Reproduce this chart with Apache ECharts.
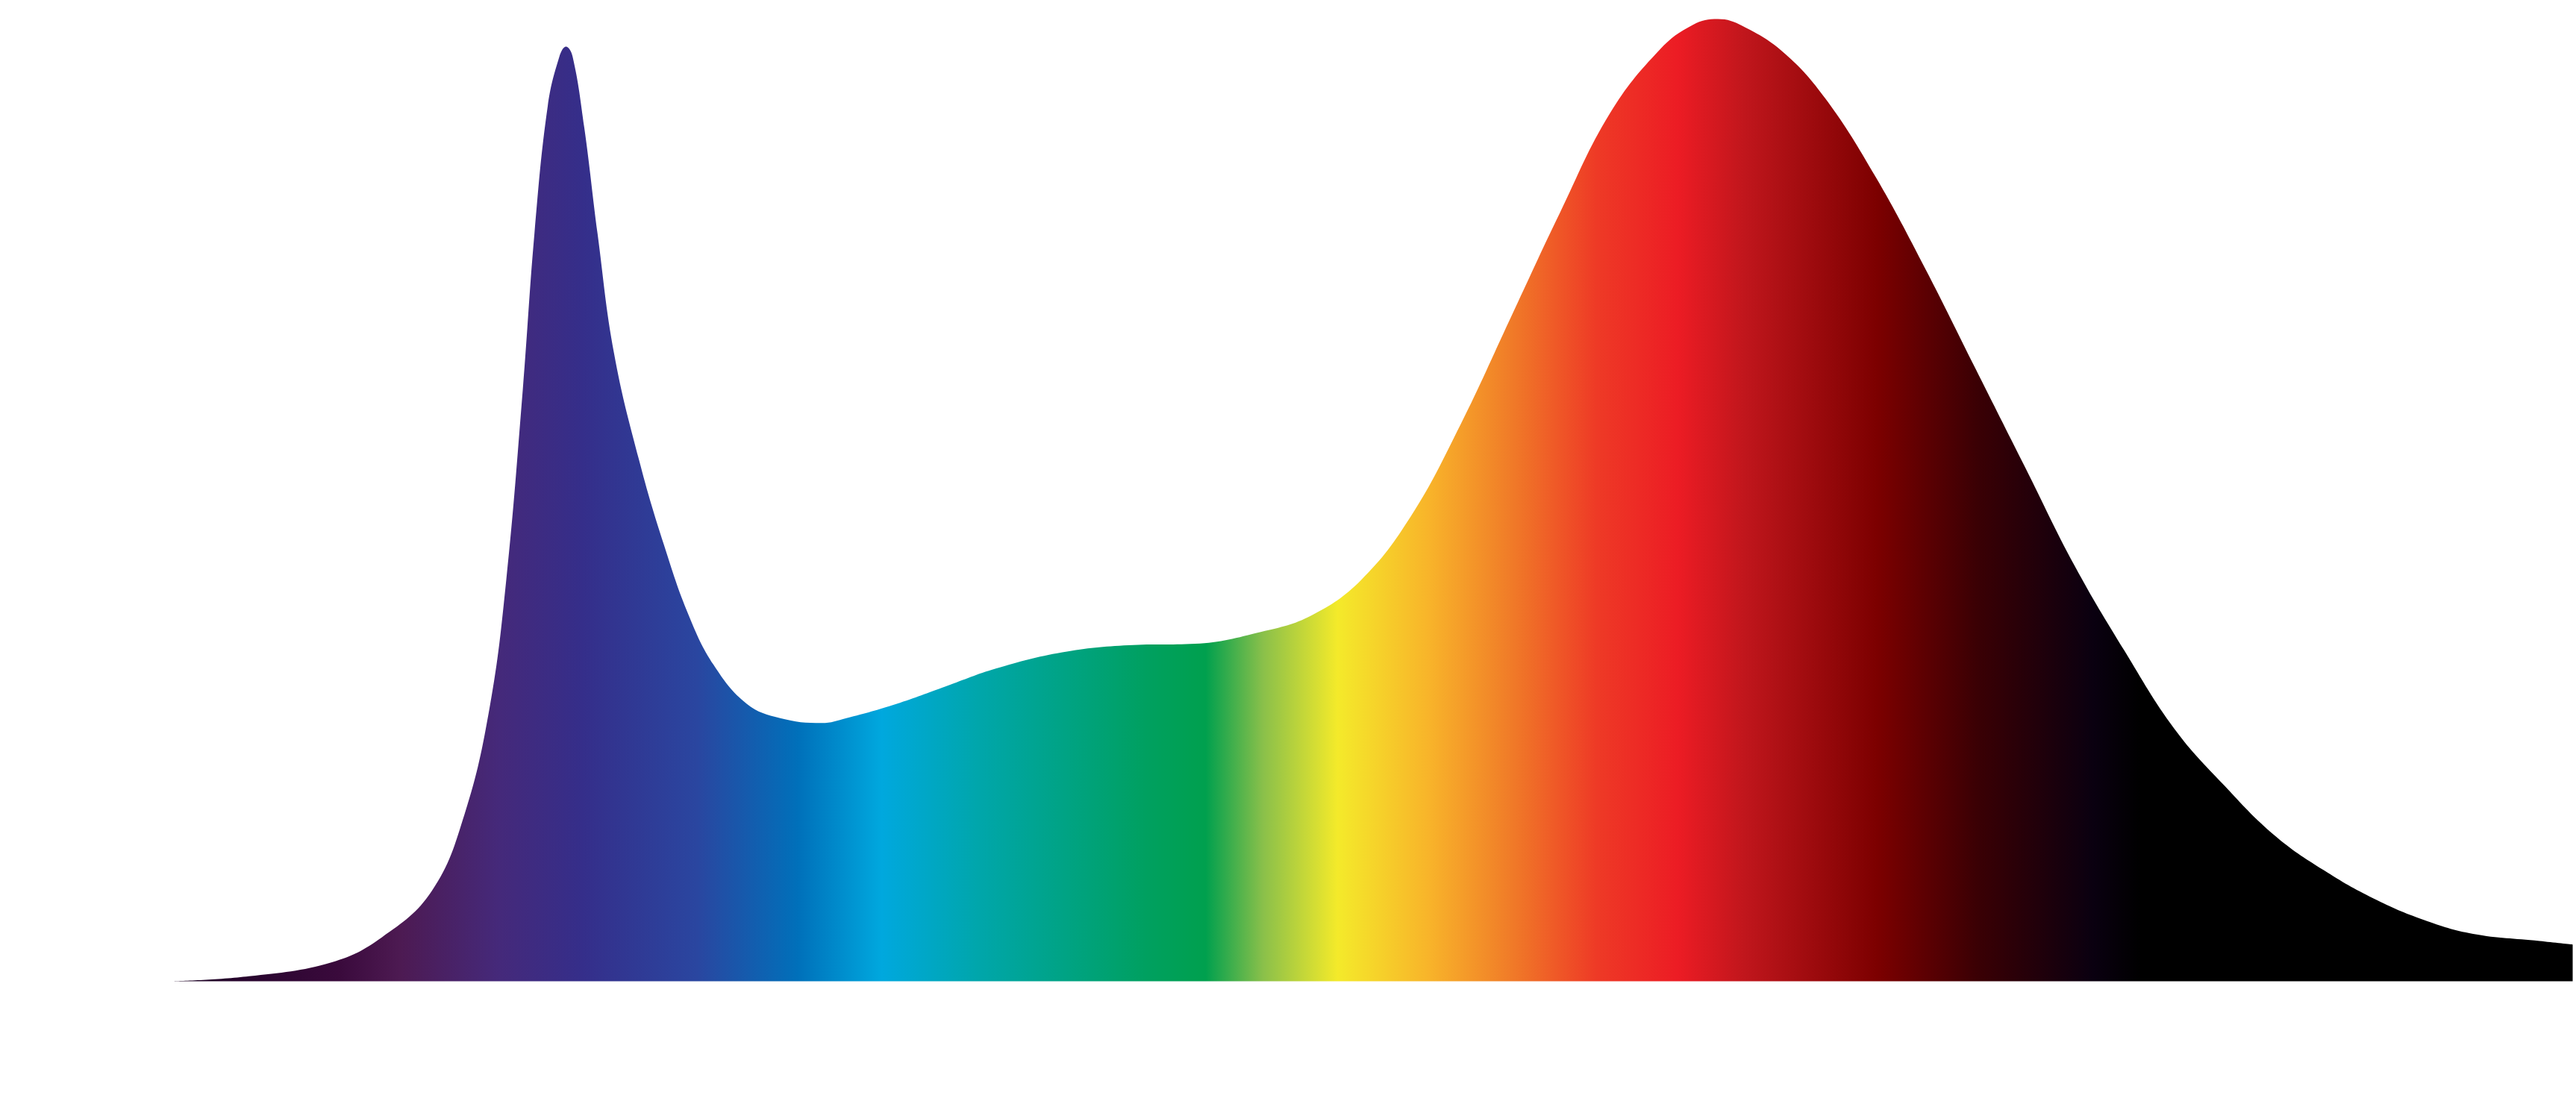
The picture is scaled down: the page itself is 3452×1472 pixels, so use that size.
<!DOCTYPE html>
<html><head><meta charset="utf-8">
<script src="https://cdn.jsdelivr.net/npm/echarts@6/dist/echarts.min.js"></script>
<style>html,body{margin:0;padding:0;background:#fff}#c{width:3452px;height:1472px}</style>
</head><body><div id="c"></div>
<script>
const wavelengths=[105,150,200,230,260,280,295,305,315,322,330,337,341,345,352,360,370,385,400,415,430,450,470,495,510,540,570,600,640,680,720,760,790,820,850,880,910,940,970,1000,1020,1035,1050,1075,1100,1130,1160,1190,1220,1250,1280,1310,1340,1370,1400,1430,1460,1490,1530,1550];
const intensity=[0,7,27,62,127,237,387,567,837,1057,1237,1307,1321,1307,1207,1057,887,737,617,517,447,392,372,365,372,392,417,442,465,475,477,494,517,567,657,787,937,1087,1227,1317,1352,1360,1350,1312,1247,1137,1007,867,727,587,467,357,277,207,157,117,87,67,57,52];
const stops=[[0,'#1a0022'],[0.069,'#3a0a3c'],[0.094,'#4d1a52'],[0.135,'#45297a'],[0.17,'#352e8a'],[0.218,'#2a46a0'],[0.26,'#0070ba'],[0.295,'#00a8de'],[0.336,'#00a6aa'],[0.405,'#00a060'],[0.43,'#00a04e'],[0.454,'#8ac04a'],[0.485,'#f4ea2a'],[0.523,'#f8b42a'],[0.558,'#f07a28'],[0.593,'#ee3a26'],[0.627,'#ec1c24'],[0.655,'#c0161c'],[0.71,'#7c0000'],[0.752,'#3a0004'],[0.80,'#0a0010'],[0.82,'#000000'],[1,'#000000']];
const chart=echarts.init(document.getElementById('c'));
chart.setOption({
 animation:false,
 grid:{left:0,right:0,top:0,bottom:0},
 xAxis:{type:'value',min:0,max:1552,show:false},
 yAxis:{type:'value',min:-165,max:1387,show:false},
 series:[{type:'line',smooth:0.4,symbol:'none',
  data:wavelengths.map((w,i)=>[w,intensity[i]]),
  lineStyle:{width:0},
  areaStyle:{origin:0,opacity:1,color:new echarts.graphic.LinearGradient(0,0,1,0,stops.map(s=>({offset:s[0],color:s[1]})))}
 }]
});
</script></body></html>
